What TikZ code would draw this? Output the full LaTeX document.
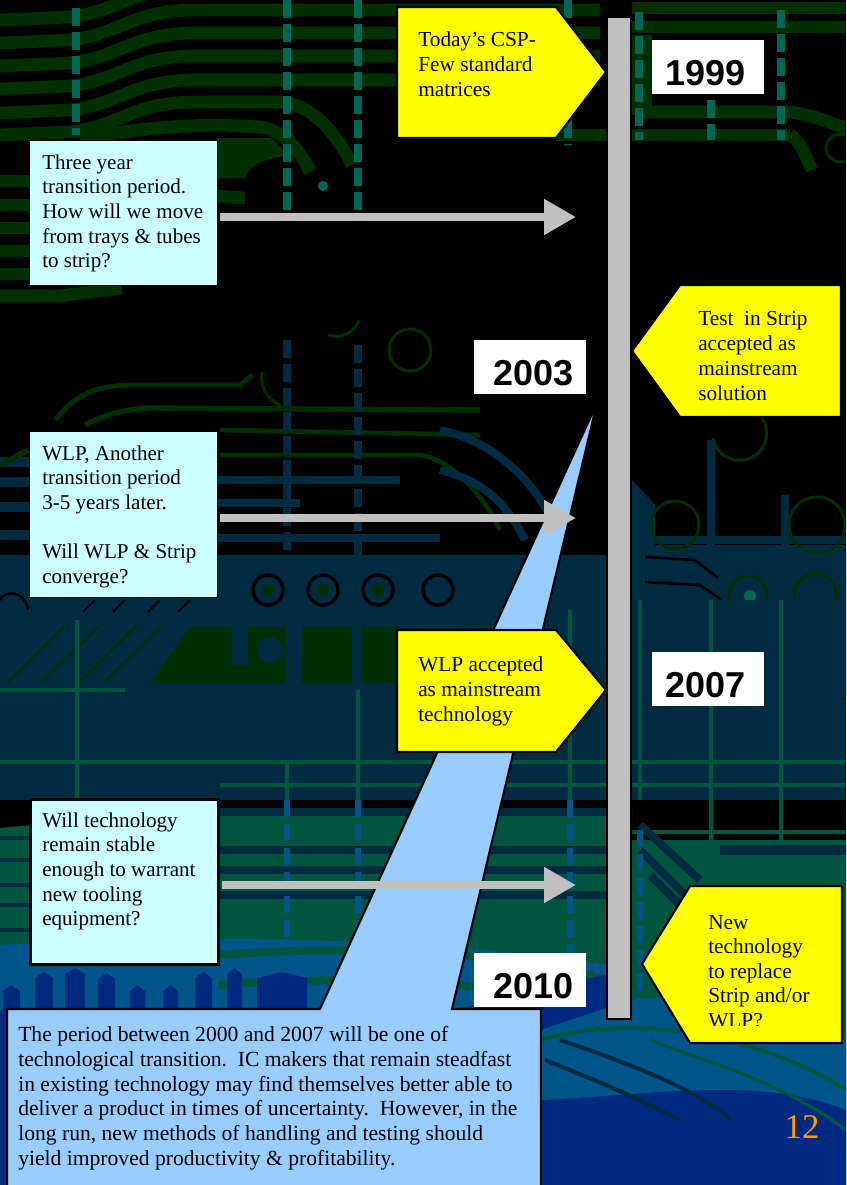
\documentclass[tikz,border=0pt]{standalone}
\usepackage{fontspec}
\setmainfont{Liberation Serif}
\setsansfont{Liberation Sans}
\usetikzlibrary{arrows.meta}
\definecolor{BoardGreen}{HTML}{003000}
\definecolor{BoardTeal}{HTML}{006655}
\definecolor{BoardNavy}{HTML}{002B40}
\definecolor{BoardMoss}{HTML}{00553F}
\definecolor{BoardSea}{HTML}{00558A}
\definecolor{BoardDeep}{HTML}{002A80}
\definecolor{NoteCyan}{HTML}{CCFFFF}
\definecolor{NoteBlue}{HTML}{99CCFF}
\definecolor{BarGray}{HTML}{C0C0C0}
\definecolor{FlagYellow}{HTML}{FFFF00}
\definecolor{PageOrange}{HTML}{FF9900}
\tikzset{
  x=0.75pt,y=-0.75pt,
  greentrace/.style={draw=BoardGreen,line width=9.5pt},
  navytrace/.style={draw=BoardNavy,line width=6pt},
  mosstrace/.style={draw=BoardMoss,line width=3.5pt},
  seacolumn/.style={draw=BoardSea,line width=5pt,dash pattern=on 13pt off 5pt},
  thinring/.style={draw=BoardGreen,line width=2.2pt},
  blackring/.style={draw=black,line width=2.6pt,fill=BoardNavy},
  viacolumn/.style={draw=BoardTeal,line width=6pt,dash pattern=on 13.5pt off 4.5pt},
  navycolumn/.style={draw=BoardNavy,line width=6pt,dash pattern=on 13.5pt off 4.5pt},
  notebox/.style={draw=black,line width=1pt,fill=NoteCyan,anchor=north west,inner sep=0pt,minimum width=141pt},
  notetext/.style={anchor=north west,align=left,inner sep=0pt,font=\fontsize{15.8}{18.5}\selectfont},
  flagtext/.style={notetext,font=\fontsize{16}{18.9}\selectfont},
  flagshape/.style={draw=black,line width=1.6pt,fill=FlagYellow,line join=miter},
  yearbox/.style={fill=white,anchor=north west,inner sep=0pt,minimum width=84pt,minimum height=40.5pt},
  yeartext/.style={font=\fontsize{27}{27}\sffamily\bfseries\selectfont,text=black,inner sep=0pt},
  barshape/.style={draw=black,line width=1.4pt,fill=BarGray},
  calloutshape/.style={draw=black,line width=1.6pt,fill=NoteBlue,line join=miter},
  timearrow/.style={draw=BarGray,line width=6pt,-{Triangle[length=24pt,width=25.5pt,fill=BarGray]}}
}
\newcommand{\notebox}[5][]{%
  \node[notebox,minimum height=#4,#1] (#2) at #3 {};
  \node[notetext] (#2text) at ([shift={(9.75pt,-10.6pt)}]#2.north west) {#5};
}
\newcommand{\yearbox}[4]{%
  \node[yearbox] (#1) at #2 {};
  \node[yeartext] (#1text) at ([shift={(#3,-4.6pt)}]#1.center) {#4};
}
\begin{document}
\begin{tikzpicture}
  \useasboundingbox (0,0) rectangle (846,1185);
  \begin{scope}
  \clip (0,0) rectangle (846,1185);
  \fill[black] (0,0) rectangle (846,1185);

  % upper traces
  \foreach \ty in {-13,10,33,56,80}
    \draw[greentrace] (0,\ty+33) -- (70,\ty+30) .. controls (120,\ty+24) and (130,\ty+2) .. (190,\ty) -- (600,\ty);
  \draw[greentrace] (0,135) -- (70,132) .. controls (120,126) and (130,104) .. (190,102) -- (280,102) .. controls (310,104) and (335,130) .. (352,165);
  \draw[greentrace] (80,137) .. controls (130,132) and (150,126) .. (220,125) -- (262,127) .. controls (285,132) and (300,150) .. (310,172);
  \fill[BoardGreen] (218,138) -- (272,138) .. controls (280,145) and (284,150) .. (284,156) .. controls (260,160) and (250,165) .. (245,178) -- (218,178) -- cycle;
  \foreach \ty in {181,205,228,251,274}
    \draw[greentrace] (0,\ty) -- (30,\ty);
  \draw[greentrace] (0,296) -- (60,296) -- (122,288);
  \draw[greentrace] (218,196) -- (245,198);
  \draw[greentrace] (556,135) -- (607,135);
  \foreach \ty in {8,27}
    \draw[greentrace] (632,\ty) -- (846,\ty);
  \fill[BoardGreen] (632,35) rectangle (652,115);
  \draw[greentrace] (640,112) -- (790,112) .. controls (815,115) and (835,125) .. (846,128);
  \draw[greentrace] (632,135) -- (790,135);
  \draw[greentrace] (790,135) .. controls (800,140) and (805,155) .. (812,170);
  \draw[thinring] (840,148) circle (14);

  % vias in the upper traces
  \draw[viacolumn] (76,8) -- (76,135);
  \draw[viacolumn] (287,0) -- (287,212);
  \draw[viacolumn] (358,0) -- (358,212);
  \draw[viacolumn] (568,0) -- (568,145);
  \draw[viacolumn] (639,12) -- (639,140);
  \draw[viacolumn] (711,100) -- (711,140);
  \draw[viacolumn] (781,10) -- (781,140);
  \fill[BoardTeal] (323,186) circle (5);

  % middle traces
  \draw[thinring] (262,372) arc (190:110:30);
  \draw[thinring] (328,335) arc (110:20:24);
  \draw[thinring] (410,350) circle (21);
  \draw[greentrace,line width=3.6pt] (55,420) .. controls (80,390) and (100,386) .. (130,385) -- (240,385) -- (252,375);
  \draw[greentrace,line width=4pt] (85,425) .. controls (110,412) and (130,409) .. (150,408) -- (480,410);
  \draw[greentrace,line width=3.5pt] (220,430) -- (480,435);
  \draw[greentrace,line width=3.5pt] (220,455) -- (420,455) .. controls (450,460) and (480,490) .. (500,530);
  \draw[navycolumn] (287,340) -- (287,650);
  \draw[navycolumn] (358,345) -- (358,650);
  \draw[navytrace] (218,480) -- (400,480);
  \draw[navytrace] (218,503) -- (300,503);
  \draw[navytrace] (218,538) -- (440,538);
  \draw[navytrace] (440,430) .. controls (490,440) and (540,480) .. (560,540);
  \draw[navytrace] (440,470) .. controls (480,480) and (505,500) .. (525,540);
  \foreach \ty in {462,482,507,535,560}
    \draw[navytrace,line width=7pt] (0,\ty) -- (30,\ty);
  \draw[greentrace,line width=4pt] (0,465) -- (28,450);

  % right of the bar
  \fill[BoardNavy] (632,480) -- (655,505) -- (655,545) -- (846,545) -- (846,700) -- (632,700) -- cycle;
  \draw[navytrace] (711,440) -- (711,545);
  \draw[navytrace] (785,495) -- (785,575);
  \draw[navytrace] (655,540) -- (846,540);
  \draw[thinring] (713,438) arc (170:-80:27);
  \draw[thinring] (817,525) circle (28);
  \draw[thinring] (675,525) circle (24);
  \draw[draw=black,line width=2pt] (645,557) -- (695,560) -- (718,578);
  \draw[draw=black,line width=2pt] (645,582) -- (700,585) -- (722,600);
  \draw[thinring] (748,595) circle (19);
  \draw[thinring] (815,595) circle (21);
  \fill[BoardTeal] (750,596) circle (6);

  % lower board
  \fill[BoardNavy] (0,555) rectangle (632,800);
  \fill[BoardNavy] (632,600) rectangle (846,800);
  \fill[BoardGreen] (150,683) -- (190,627) -- (285,627) -- (285,683) -- cycle;
  \fill[BoardNavy] (232,627) rectangle (248,665);
  \fill[BoardNavy] (270,650) circle (13);
  \fill[BoardGreen] (302,627) rectangle (352,683);
  \fill[BoardGreen] (362,627) rectangle (420,683);
  \fill[BoardGreen] (420,627) rectangle (475,685);
  \foreach \rx in {268,323,378,438}
    \draw[blackring] (\rx,590) circle (15);
  \foreach \rx in {268,323,378}
    \fill[BoardGreen] (\rx,590) circle (6);
  \draw[draw=black,line width=2pt] (0,600) .. controls (5,590) and (25,590) .. (28,610);
  \foreach \ux in {66,100,137,163}
    \draw[draw=BoardGreen,line width=1.5pt] (\ux-58,682) -- (\ux,625);
  \foreach \ux in {95,125,160,190}
    \draw[draw=black,line width=1.5pt] (\ux-12,612) -- (\ux,600);
  \draw[mosstrace] (0,690) -- (125,690);
  \draw[mosstrace] (0,762) -- (846,762);
  \draw[mosstrace] (77,620) -- (77,800);
  \draw[mosstrace] (358,690) -- (358,800);
  \draw[mosstrace] (287,762) -- (287,800);
  \draw[mosstrace] (570,610) -- (570,800);
  \draw[mosstrace] (640,600) -- (640,800);
  \draw[mosstrace] (711,600) -- (711,860);
  \draw[mosstrace] (781,600) -- (781,860);
  \draw[mosstrace] (220,785) -- (846,785);
  \draw[mosstrace] (632,832) -- (846,832);

  \fill[BoardMoss] (0,828) -- (218,808) -- (632,808) -- (632,840) -- (846,840) -- (846,1185) -- (0,1185) -- cycle;
  \foreach \ty in {812,850,870,895}
    \draw[navytrace] (218,\ty) -- (607,\ty);
  \foreach \ty in {838,860,885,905,930}
    \draw[navytrace,line width=3pt] (0,\ty) -- (30,\ty);
  \draw[navytrace] (640,825) -- (700,880);
  \draw[navytrace] (640,850) -- (690,900);
  \draw[navytrace] (650,875) -- (690,915);
  \draw[navytrace,line width=8pt] (720,850) -- (846,850);
  \draw[seacolumn] (287,800) -- (287,960);
  \draw[seacolumn] (358,800) -- (358,960);
  \draw[seacolumn] (570,800) -- (570,1000);
  \draw[seacolumn] (640,830) -- (640,1000);

  % bottom of the board
  \fill[BoardSea] (0,945) .. controls (200,935) and (400,935) .. (607,965) -- (607,1030) -- (0,1030) -- cycle;
  \foreach \ty in {955,985}
    \draw[draw=BoardMoss,line width=6pt] (218,\ty) .. controls (350,\ty-10) and (500,\ty-5) .. (607,\ty+25);
  \foreach \bx/\bw/\bt in {3/17/985,35/18/972,65/20/968,98/17/973,130/15/985,163/15/985,195/17/972,227/15/968,257/50/972}
    \fill[BoardDeep] (\bx,1012) -- (\bx,\bt+6) -- (\bx+\bw/2,\bt) -- (\bx+\bw,\bt+6) -- (\bx+\bw,1012) -- cycle;
  \fill[BoardDeep] (0,1010) rectangle (8,1185);
  \fill[BoardDeep] (452,1009) .. controls (520,1000) and (570,980) .. (607,975) -- (632,1000) .. controls (700,1010) and (780,1040) .. (846,1045) -- (846,1185) -- (452,1185) -- cycle;
  \fill[BoardSea] (541,1030) .. controls (570,1020) and (600,1010) .. (632,1000) .. controls (720,990) and (800,1010) .. (846,1040) -- (846,1110) .. controls (760,1075) and (650,1095) .. (541,1100) -- cycle;
  \draw[draw=BoardMoss,line width=3pt] (541,1040) .. controls (640,1010) and (770,1040) .. (846,1090);
  \draw[draw=BoardNavy,line width=3pt] (545,1060) .. controls (620,1090) and (640,1100) .. (680,1120);
  \draw[draw=BoardNavy,line width=3pt] (560,1040) .. controls (620,1060) and (700,1090) .. (730,1120);
  \draw[draw=BoardMoss,line width=2.5pt] (650,1040) .. controls (700,1060) and (780,1080) .. (846,1130);
  \end{scope}

  % the timeline
  \draw[calloutshape] (7,1009) -- (320,1009) -- (597,403) -- (452,1009) -- (541,1009) -- (541,1195) -- (7,1195) -- cycle;
  \node[notetext,font=\fontsize{16.2}{18.6}\selectfont] (periodtext) at (18,1026) {The period between 2000 and 2007 will be one of\\technological transition.\ \ IC makers that remain steadfast\\in existing technology may find themselves better able to\\deliver a product in times of uncertainty.\ \ However, in the\\long run, new methods of handling and testing should\\yield improved productivity \& profitability.};
  \draw[barshape] (607,17) rectangle (631,1019);

  \coordinate (tipthree) at (576,217);
  \coordinate (tipwlp) at (576,518);
  \coordinate (tipwill) at (576,885);

  \notebox{three}{(29,140)}{108.75pt}{Three year\\transition period.\\How will we move\\from trays \& tubes\\to strip?}
  \notebox{wlp}{(29,431)}{124.5pt}{WLP, Another\\transition period\\3-5 years later.\\[18.5pt]Will WLP \& Strip\\converge?}
  \notebox[line width=2.2pt]{will}{(29,798)}{123.75pt}{Will technology\\remain stable\\enough to warrant\\new tooling\\equipment?}

  \draw[timearrow] (three.east |- tipthree) ++(1.5pt,0) -- (tipthree);
  \draw[timearrow] (wlp.east |- tipwlp) ++(1.5pt,0) -- (tipwlp);
  \draw[timearrow] (will.east |- tipwill) ++(1.5pt,0) -- (tipwill);

  \draw[flagshape] (397,7) -- (556,7) -- (606,72) -- (556,138) -- (397,138) -- cycle;
  \node[flagtext] (todaytext) at (418,31) {Today’s CSP-\\Few standard\\matrices};
  \draw[flagshape] (632,351) -- (680,285) -- (841,285) -- (841,417) -- (680,417) -- cycle;
  \node[flagtext] (testtext) at (698,311) {Test\ \ in Strip\\accepted as\\mainstream\\solution};
  \draw[flagshape] (397,630) -- (556,630) -- (606,690) -- (556,752) -- (397,752) -- cycle;
  \node[flagtext] (accepttext) at (418,656) {WLP accepted\\as mainstream\\technology};
  \draw[flagshape] (642,964) -- (690,886) -- (842,886) -- (842,1043) -- (690,1043) -- cycle;
  \begin{scope}
    \clip (690,890) rectangle (840,1025);
    \node[flagtext,font=\fontsize{16}{18.4}\selectfont] (newtext) at (708,915) {New\\technology\\to replace\\Strip and/or\\WLP?};
  \end{scope}

  \yearbox{yeara}{(652,40)}{-2.4pt}{1999}
  \yearbox{yearb}{(474,340)}{2.2pt}{2003}
  \yearbox{yearc}{(652,652)}{-2.4pt}{2007}
  \yearbox{yeard}{(474,953)}{2.2pt}{2010}

  \node[inner sep=0pt,text=PageOrange,font=\fontsize{26}{26}\selectfont] (pagenum) at (802,1127) {12};
\end{tikzpicture}
\end{document}
